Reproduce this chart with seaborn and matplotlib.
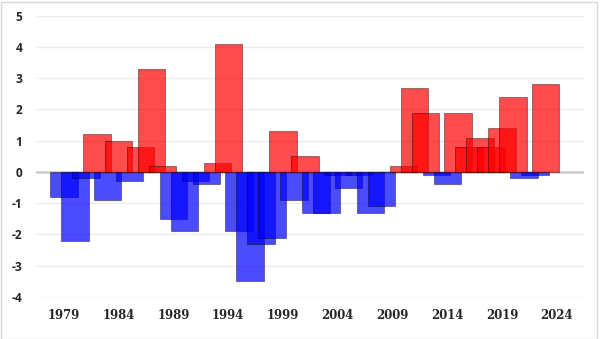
import numpy as np
import pandas as pd
import matplotlib
matplotlib.use("Agg")
import matplotlib.pyplot as plt
import seaborn as sns
from matplotlib.patches import Rectangle

# ---- data ----
years = list(range(1979, 2025))
values = [-0.8, -2.2, -0.2, 1.2, -0.9, 1.0, -0.3, 0.8, 3.3, 0.2,
          -1.5, -1.9, -0.3, -0.4, 0.3, 4.1, -1.9, -3.5, -2.3, -2.1,
          1.3, -0.9, 0.5, -1.3, -1.3, -0.1, -0.5, -0.1, -1.3, -1.1,
          0.0, 0.2, 2.7, 1.9, -0.1, -0.4, 1.9, 0.8, 1.1, 0.8,
          1.4, 2.4, -0.2, -0.1, 2.8, np.nan]
tick_years = [1979, 1984, 1989, 1994, 1999, 2004, 2009, 2014, 2019, 2024]
y_ticks = [-4, -3, -2, -1, 0, 1, 2, 3, 4, 5]

df = pd.DataFrame({"year": [str(y) for y in years], "value": values})
df["sign"] = np.where(df["value"] >= 0, "pos", "neg")

sns.set_theme(style="white")
fig = plt.figure(figsize=(6.0, 3.39), dpi=100)
ax = fig.add_axes([0.06, 0.1239, 0.9133, 0.8298])

# gridlines
for t in y_ticks:
    if t != 0:
        ax.axhline(t, color="#ededed", lw=1.0, zorder=0)
ax.axhline(0, color="#cccccc", lw=1.8, zorder=0.5)

sns.barplot(data=df, x="year", y="value", hue="sign",
            order=[str(y) for y in years],
            palette={"pos": (1, 0, 0), "neg": (0, 0, 1)},
            saturation=1, dodge=False, width=2.5, legend=False,
            linewidth=0.8, ax=ax, zorder=2)

for p in ax.patches:
    fc = p.get_facecolor()
    p.set_alpha(None)
    p.set_facecolor((fc[0], fc[1], fc[2], 0.7))
    p.set_edgecolor((0, 0, 0, 0.38))
    p.set_linewidth(0.8)

ax.set_xlim(-2.557, 47.49)
ax.set_ylim(-4, 5)
ax.set_xticks([years.index(y) for y in tick_years])
ax.set_xticklabels([str(y) for y in tick_years],
                   fontfamily="DejaVu Serif", fontweight="bold", fontsize=8.4)
ax.set_yticks(y_ticks)
ax.set_yticklabels([str(t) for t in y_ticks],
                   fontfamily="Open Sans", fontweight="bold", fontsize=8.6)
ax.tick_params(axis="x", length=0, pad=9)
ax.tick_params(axis="y", length=0, pad=10)
ax.set_xlabel("")
ax.set_ylabel("")
for s in ax.spines.values():
    s.set_visible(False)

fig.add_artist(Rectangle((0.5 / 600, 0.5 / 339), 596.5 / 600, 337 / 339,
                         transform=fig.transFigure, fill=False,
                         edgecolor="#d9d9d9", lw=1.0))

fig.savefig("out.png", dpi=100, facecolor="white")
